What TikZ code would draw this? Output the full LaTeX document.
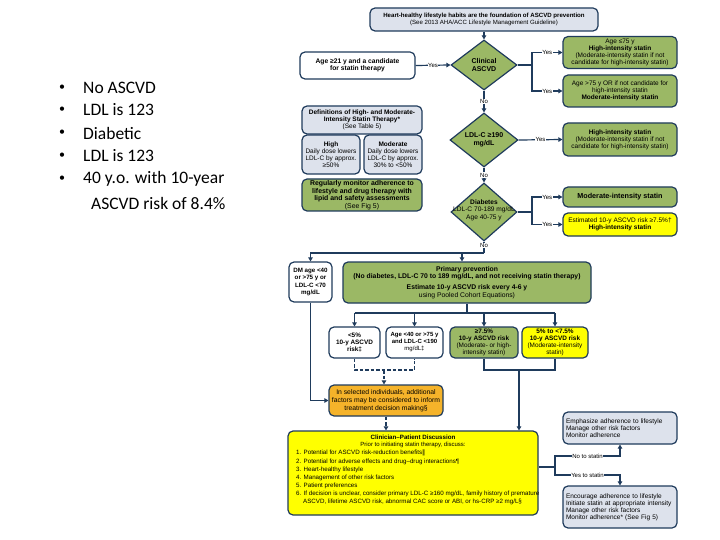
\documentclass[tikz,border=0pt]{standalone}
\usepackage{fontspec}
\setmainfont{Liberation Sans}
\newfontfamily\carlitofont{Carlito}
\newfontfamily\djvfont{DejaVu Sans}
\usetikzlibrary{arrows.meta,shapes.geometric}
\definecolor{navy}{HTML}{1F3B5C}
\definecolor{lgreen}{HTML}{9BB865}
\definecolor{lblue}{HTML}{DDE2EC}
\definecolor{yel}{HTML}{FFFF00}
\definecolor{orng}{HTML}{F5B32A}
\newcommand\fsa{\fontsize{6}{6.9}\selectfont}
\newcommand\fsm{\fontsize{6.5}{7.1}\selectfont}
\newcommand\fsl{\fontsize{7}{7.9}\selectfont}
\newcommand\fsb{\fontsize{6.2}{8.1}\selectfont}
\begin{document}
\begin{tikzpicture}[x=1pt,y=-1pt,
  box/.style={draw=navy, line width=1.2pt, rounded corners=5pt, align=center, inner sep=0pt, font=\fsm},
  gbox/.style={box, fill=lgreen},
  wbox/.style={box, fill=white},
  bbox/.style={box, fill=lblue},
  ybox/.style={box, fill=yel},
  obox/.style={box, fill=orng},
  dia/.style={diamond, draw=navy, line width=1.2pt, fill=lgreen, inner sep=0pt},
  dtext/.style={font=\fsl, align=center, inner sep=0pt},
  conn/.style={draw=navy, line width=1.2pt},
  arr/.style={conn, -{Triangle[width=4.5pt,length=4pt]}},
  dsh/.style={conn, dash pattern=on 3.5pt off 2pt},
  lab/.style={font=\fsa, fill=white, inner sep=0.6pt},
  bultext/.style={font=\carlitofont\fontsize{17.5}{19}\selectfont, anchor=west, inner sep=0pt},
  bulmark/.style={font=\carlitofont\fontsize{12}{14}\selectfont, inner sep=0pt},
]
\fill[white] (0,0) rectangle (720,540);
\useasboundingbox (0,0) rectangle (720,540);

% bullet list
\node[bulmark] (m1) at (62,88) {•};
\node[bulmark] (m2) at (62,110) {•};
\node[bulmark] (m3) at (62,133) {•};
\node[bulmark] (m4) at (62,156) {•};
\node[bulmark] (m5) at (62,179) {•};
\node[bultext] (t1) at (83,88) {No ASCVD};
\node[bultext] (t2) at (83,110) {LDL is 123};
\node[bultext] (t3) at (83,133) {Diabetic};
\node[bultext] (t4) at (83,156) {LDL is 123};
\node[bultext] (t5) at (83,179) {40 y.o. with 10-year};
\node[bultext] (t6) at (91,203) {ASCVD risk of 8.4\%};

% top
\node[bbox, font=\fontsize{6.1}{7}\selectfont, minimum width=228pt, minimum height=23pt] (top) at (484,19.5)
  {\textbf{Heart-healthy lifestyle habits are the foundation of ASCVD prevention}\\(See 2013 AHA/ACC Lifestyle Management Guideline)};
\node[wbox, font=\fontsize{6.7}{7.5}\selectfont, minimum width=115pt, minimum height=27pt] (age) at (357.5,65.5)
  {\textbf{Age ≥21 y and a candidate}\\\textbf{for statin therapy}};
\node[dia, minimum width=66pt, minimum height=50pt] (d1) at (484,65) {};
\node[dtext] (d1t) at (d1.center) {\textbf{Clinical}\\\textbf{ASCVD}};
\node[gbox, minimum width=114pt, minimum height=32pt] (box1) at (620,52.5)
  {Age ≤75 y\\\textbf{High-intensity statin}\\(Moderate-intensity statin if not\\candidate for high-intensity statin)};
\node[gbox, minimum width=114pt, minimum height=32pt] (box2) at (620,91)
  {Age >75 y OR if not candidate for\\high-intensity statin\\\textbf{Moderate-intensity statin}};

% left definitions
\node[bbox, minimum width=120pt, minimum height=28pt] (defs) at (362,120)
  {\textbf{Definitions of High- and Moderate-}\\\textbf{Intensity Statin Therapy*}\\(See Table 5)};
\node[bbox, minimum width=58pt, minimum height=39pt] (high) at (331,154.5)
  {\textbf{High}\\Daily dose lowers\\LDL-C by approx.\\≥50\%};
\node[bbox, minimum width=58pt, minimum height=39pt] (mod) at (393,154.5)
  {\textbf{Moderate}\\Daily dose lowers\\LDL-C by approx.\\30\% to <50\%};
\node[gbox, font=\fontsize{6.9}{7.5}\selectfont, minimum width=120pt, minimum height=32pt] (reg) at (362,195)
  {\textbf{Regularly monitor adherence to}\\\textbf{lifestyle and drug therapy with}\\\textbf{lipid and safety assessments}\\(See Fig 5)};

% LDL diamond
\node[dia, minimum width=68pt, minimum height=54pt] (d2) at (484,140) {};
\node[dtext] (d2t) at (d2.center) {\textbf{LDL-C ≥190}\\\textbf{mg/dL}};
\node[gbox, minimum width=114pt, minimum height=33pt] (box3) at (620,139.5)
  {\textbf{High-intensity statin}\\(Moderate-intensity statin if not\\candidate for high-intensity statin)};

% Diabetes diamond
\node[dia, minimum width=66pt, minimum height=58pt] (d3) at (484,212) {};
\node[dtext, font=\fontsize{6.6}{7.4}\selectfont] (d3t) at (484,210) {\textbf{Diabetes}\\LDL-C 70-189 mg/dL\\Age 40-75 y};
\node[gbox, font=\fontsize{7.2}{8}\selectfont, minimum width=114pt, minimum height=20pt] (box4) at (620,197)
  {\textbf{Moderate-intensity statin}};
\node[ybox, minimum width=114pt, minimum height=23pt] (box5) at (620,224.5)
  {Estimated 10-y ASCVD risk ≥7.5\%†\\\textbf{High-intensity statin}};

% primary prevention row
\node[wbox, font=\fontsize{6.2}{7.2}\selectfont, minimum width=43pt, minimum height=40pt] (dm) at (310.5,282)
  {\textbf{DM age <40}\\\textbf{or >75 y or}\\\textbf{LDL-C <70}\\\textbf{mg/dL}};
\node[gbox, font=\fontsize{6.8}{7.6}\selectfont, minimum width=248pt, minimum height=41pt] (prim) at (467,282.5)
  {\textbf{Primary prevention}\\\textbf{(No diabetes, LDL-C 70 to 189 mg/dL, and not receiving statin therapy)}\\[3pt]\textbf{Estimate 10-y ASCVD risk every 4-6 y}\\using Pooled Cohort Equations)};

\node[wbox, font=\fontsize{6.4}{7.3}\selectfont, minimum width=51pt, minimum height=31pt] (b1) at (354.5,342.5)
  {\textbf{<5\%}\\\textbf{10-y ASCVD}\\\textbf{risk‡}};
\node[wbox, font=\fontsize{6}{7}\selectfont, minimum width=57pt, minimum height=31pt] (b2) at (414.5,342.5)
  {\textbf{Age <40 or >75 y}\\\textbf{and LDL-C <190}\\mg/dL‡};
\node[gbox, font=\fontsize{6.4}{7.2}\selectfont, minimum width=68pt, minimum height=31pt] (b3) at (484,342.5)
  {\textbf{≥7.5\%}\\\textbf{10-y ASCVD risk}\\(Moderate- or high-\\intensity statin)};
\node[ybox, font=\fontsize{6.4}{7.2}\selectfont, minimum width=66pt, minimum height=31pt] (b4) at (555,342.5)
  {\textbf{5\% to <7.5\%}\\\textbf{10-y ASCVD risk}\\(Moderate-intensity\\statin)};

\node[obox, font=\fontsize{6.8}{8}\selectfont, minimum width=114pt, minimum height=31pt] (ora) at (386,400.5)
  {In selected individuals, additional\\factors may be considered to inform\\treatment decision making§};

% clinician discussion
\node[ybox, minimum width=250pt, minimum height=84pt] (cli) at (413,473) {};
\node[dtext, font=\fontsize{6.2}{7}\selectfont] (clit) at (413,437.5) {\textbf{Clinician–Patient Discussion}};
\node[dtext, font=\fontsize{6}{7}\selectfont] (clis) at (413,445) {Prior to initiating statin therapy, discuss:};
\node[font=\fsb, align=left, anchor=north west, inner sep=0pt] (clil) at (296,450)
  {1. Potential for ASCVD risk-reduction benefits{\djvfont ‖}\\
   2. Potential for adverse effects and drug–drug interactions¶\\
   3. Heart-healthy lifestyle\\
   4. Management of other risk factors\\
   5. Patient preferences\\
   6. If decision is unclear, consider primary LDL-C ≥160 mg/dL, family history of premature\\
   \hspace*{7pt}ASCVD, lifetime ASCVD risk, abnormal CAC score or ABI, or hs-CRP ≥2 mg/L§};

\node[bbox, align=left, text width=108pt, inner xsep=3pt, minimum height=32pt] (emph) at (620,428)
  {Emphasize adherence to lifestyle\\Manage other risk factors\\Monitor adherence};
\node[bbox, align=left, text width=108pt, inner xsep=3pt, minimum height=42pt] (enc) at (620,507)
  {Encourage adherence to lifestyle\\Initiate statin at appropriate intensity\\Manage other risk factors\\Monitor adherence* (See Fig 5)};

% connectors
\draw[arr] (top.south) -- (d1.north);
\draw[arr] (age.east) -- node[lab]{Yes} (d1.west);
\coordinate (j1) at (532,65);
\draw[conn] (d1.east) -- (j1);
\draw[arr] (j1) |- node[lab, pos=0.75]{Yes} (box1.west);
\draw[arr] (j1) |- node[lab, pos=0.75]{Yes} (box2.west);
\draw[arr] (d1.south) -- node[lab]{No} (d2.north);
\draw[arr] (d2.east) -- node[lab]{Yes} (box3.west);
\draw[arr] (d2.south) -- node[lab]{No} (d3.north);
\coordinate (j2) at (532,212);
\draw[conn] (d3.east) -- (j2);
\draw[arr] (j2) |- node[lab, pos=0.75]{Yes} (box4.west);
\draw[arr] (j2) |- node[lab, pos=0.75]{Yes} (box5.west);
\coordinate (j3) at (484,253);
\draw[conn] (d3.south) -- node[lab, pos=0.35]{No} (j3);
\draw[arr] (j3) -| (dm.north);
\coordinate (j5) at (462,253);
\draw[arr] (j5) -- (j5 |- prim.north);
\coordinate (j6) at (467,313);
\draw[conn] (prim.south) -- (j6);
\draw[conn] (b1.north |- j6) -- (b4.north |- j6);
\draw[arr] (b1.north |- j6) -- (b1.north);
\draw[arr] (b2.north |- j6) -- (b2.north);
\draw[arr] (b3.north |- j6) -- (b3.north);
\draw[arr] (b4.north |- j6) -- (b4.north);
\coordinate (k1) at (354.5,370);
\draw[dsh] (b1.south) -- (b1.south |- k1) -- (b2.south |- k1) -- (b2.south);
\coordinate (k2) at (384,370);
\draw[dsh, -{Triangle[width=4.5pt,length=4pt]}] (k2) -- (k2 |- ora.north);
\draw[arr] (dm.south) |- (ora.west);
\draw[dsh, -{Triangle[width=4.5pt,length=4pt]}] (ora.south) -- (ora.south |- cli.north);
\coordinate (j7) at (519,370);
\draw[conn] (b3.south) -- (b3.south |- j7) -- (b4.south |- j7) -- (b4.south);
\draw[arr] (j7) -- (j7 |- cli.north);
\coordinate (j8) at (555,467);
\draw[conn] (cli.east |- j8) -- (j8);
\coordinate (n1) at (555,456);
\coordinate (n2) at (emph.south |- n1);
\draw[arr] (j8) -- (n1) -- node[lab]{No to statin} (n2) -- (emph.south);
\coordinate (y1) at (555,475);
\coordinate (y2) at (enc.north |- y1);
\draw[arr] (j8) -- (y1) -- node[lab]{Yes to statin} (y2) -- (enc.north);
\end{tikzpicture}
\end{document}
